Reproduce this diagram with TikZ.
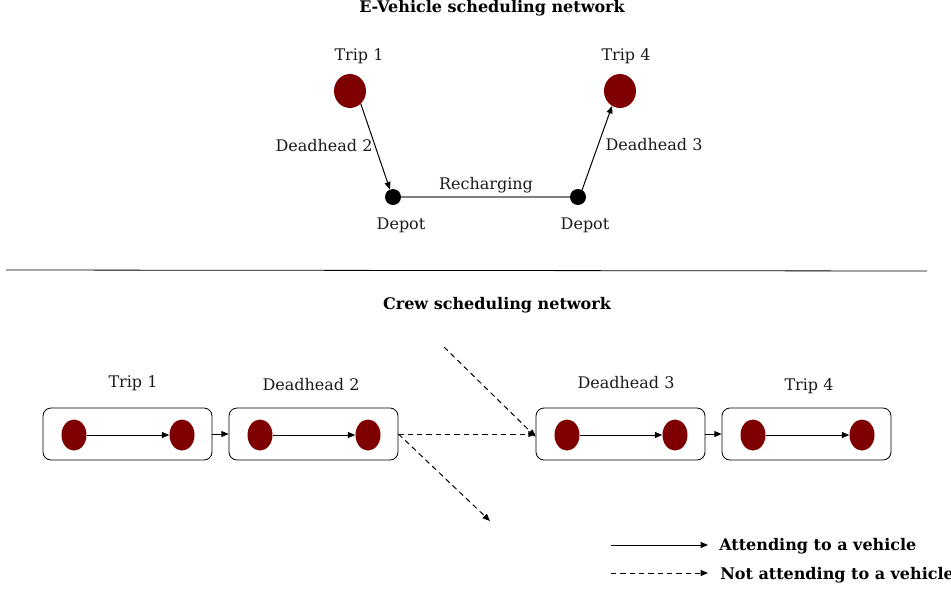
\documentclass[tikz,border=0pt]{standalone}
\usepackage{fontspec}
\setmainfont{DejaVu Serif}
\usetikzlibrary{shapes.geometric,arrows.meta}
\definecolor{trip}{HTML}{7F0000}
\definecolor{txt}{HTML}{1A1A1A}
\tikzset{
  bigdot/.style={ellipse,fill=trip,draw=none,minimum width=24pt,minimum height=25.5pt,inner sep=0pt},
  smalldot/.style={ellipse,fill=trip,draw=none,minimum width=18.75pt,minimum height=23.25pt,inner sep=0pt},
  depot/.style={circle,fill=black,minimum size=12pt,inner sep=0pt},
  lbl/.style={text=txt,font=\fontsize{12pt}{14pt}\selectfont,inner sep=0pt},
  ttl/.style={text=black,font=\fontsize{12pt}{14pt}\selectfont\bfseries,inner sep=0pt},
  crew/.style={rectangle,rounded corners=6pt,draw=black,line width=0.6pt,minimum width=126.75pt,minimum height=39pt,inner sep=0pt},
  arr/.style={-{Triangle[length=5.5pt,width=4.5pt]},line width=0.75pt},
  darr/.style={arr,dashed,dash pattern=on 4pt off 3pt}
}
\begin{document}
\begin{tikzpicture}[x=0.75pt,y=-0.75pt]
\useasboundingbox (0,0) rectangle (951,593);
% E-vehicle network
\node[ttl] (t1) at (492,8) {E-Vehicle scheduling network};
\node[lbl] (lt1) at (359,56) {Trip 1};
\node[lbl] (lt4) at (626,56) {Trip 4};
\node[bigdot] (trip1) at (350,91) {};
\node[bigdot] (trip4) at (620,91) {};
\node[depot] (dep1) at (393,197) {};
\node[depot] (dep2) at (578,197) {};
\node[lbl] (ldep1) at (401,225) {Depot};
\node[lbl] (ldep2) at (585,225) {Depot};
\node[lbl] (lrech) at (486,185) {Recharging};
\node[lbl] (ldh2) at (324,146) {Deadhead 2};
\node[lbl] (ldh3) at (654,145) {Deadhead 3};
\draw[gray,line width=1.2pt] (dep1) -- (dep2);
\draw[arr] (trip1.-50) -- (dep1.112);
\draw[arr] (dep2.60) -- (trip4.-118);
% separator
\coordinate (sl) at (6,270);
\coordinate (sr) at (927,271);
\draw[line width=0.6pt] (sl) -- (sr);
% crew network
\node[ttl] (t2) at (497,305) {Crew scheduling network};
\node[crew] (b1) at (127.5,434) {};
\node[crew] (b2) at (313.5,434) {};
\node[crew] (b3) at (620.5,434) {};
\node[crew] (b4) at (806.5,434) {};
\node[lbl] (lb1) at (133,383) {Trip 1};
\node[lbl] (lb2) at (311,385) {Deadhead 2};
\node[lbl] (lb3) at (626,383) {Deadhead 3};
\node[lbl] (lb4) at (809,386) {Trip 4};
\node[smalldot] (a1) at (74,435) {};
\node[smalldot] (a2) at (182,435) {};
\node[smalldot] (c1) at (260,435) {};
\node[smalldot] (c2) at (368,435) {};
\node[smalldot] (d1) at (567,435) {};
\node[smalldot] (d2) at (675,435) {};
\node[smalldot] (e1) at (753,435) {};
\node[smalldot] (e2) at (862,435) {};
\draw[arr] (a1) -- (a2);
\draw[arr] (c1) -- (c2);
\draw[arr] (d1) -- (d2);
\draw[arr] (e1) -- (e2);
\draw[arr] (b1.east) -- (b2.west);
\draw[arr] (b3.east) -- (b4.west);
\draw[darr] (b2.east) -- (b3.west);
\coordinate (down) at (490,521);
\coordinate (up) at (444,347);
\draw[darr] (b2.east) -- (down);
\draw[darr] (up) -- ([yshift=-2pt]b3.west);
% legend
\coordinate (l1a) at (611,545);
\coordinate (l1b) at (708,545);
\coordinate (l2a) at (611,573);
\coordinate (l2b) at (708,573);
\draw[arr] (l1a) -- (l1b);
\draw[darr] (l2a) -- (l2b);
\node[ttl,anchor=west] (leg1) at (719,546) {Attending to a vehicle};
\node[ttl,anchor=west] (leg2) at (720,575) {Not attending to a vehicle};
\end{tikzpicture}
\end{document}
